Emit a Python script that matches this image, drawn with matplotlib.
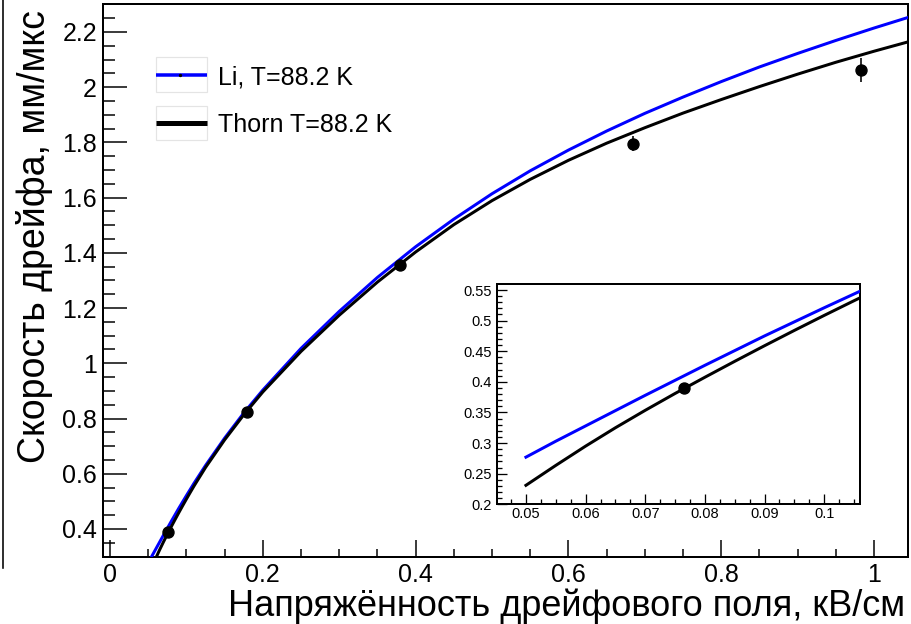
import matplotlib
matplotlib.use("Agg")
import matplotlib.pyplot as plt
from matplotlib.lines import Line2D
from matplotlib.patches import Rectangle
from matplotlib.ticker import FixedLocator, MultipleLocator, FuncFormatter

plt.rcParams['font.family'] = ['Liberation Sans', 'DejaVu Sans']

# Drift field, kV/cm, and electron drift velocity, mm/us, for both models
field = [0.05, 0.055, 0.06, 0.065, 0.07, 0.075, 0.08, 0.085, 0.09, 0.095,
         0.10, 0.105, 0.11, 0.125, 0.15, 0.175, 0.2, 0.25, 0.3, 0.35, 0.4,
         0.45, 0.5, 0.55, 0.6, 0.65, 0.7, 0.75, 0.8, 0.85, 0.9, 0.95, 1.0,
         1.05]
li_velocity = [0.277, 0.303, 0.328, 0.353, 0.378, 0.4025, 0.427, 0.451,
               0.475, 0.498, 0.521, 0.5435, 0.566, 0.630, 0.729, 0.820,
               0.903, 1.054, 1.188, 1.311, 1.422, 1.522, 1.614, 1.697, 1.772,
               1.841, 1.905, 1.964, 2.020, 2.073, 2.122, 2.169, 2.214, 2.257]
thorn_velocity = [0.231, 0.2635, 0.295, 0.325, 0.3535, 0.381, 0.4075,
                  0.4335, 0.459, 0.484, 0.5085, 0.5325, 0.556, 0.6228, 0.7228,
                  0.8133, 0.8963, 1.043, 1.174, 1.294, 1.403, 1.502, 1.589,
                  1.666, 1.735, 1.797, 1.853, 1.906, 1.955, 2.002, 2.047,
                  2.090, 2.130, 2.168]

# Measurements
meas_field = [0.0765, 0.1797, 0.3796, 0.685, 0.9826]
meas_velocity = [0.390, 0.824, 1.357, 1.795, 2.063]
meas_error = [0.005, 0.008, 0.012, 0.027, 0.044]

series_labels = ["Li, T=88.2 K", "Thorn T=88.2 K"]
x_title = "Напряжённость дрейфового поля, кВ/см"
y_title = "Скорость дрейфа, мм/мкс"

main_xticks = [0, 0.2, 0.4, 0.6, 0.8, 1.0]
main_yticks = [0.4, 0.6, 0.8, 1.0, 1.2, 1.4, 1.6, 1.8, 2.0, 2.2]
inset_xticks = [0.05, 0.06, 0.07, 0.08, 0.09, 0.1]
inset_yticks = [0.2, 0.25, 0.3, 0.35, 0.4, 0.45, 0.5, 0.55]

W, H = 912, 624
DPI = 100


def fx(px):
    return px / W


def fy(py):
    return 1 - py / H


def px2pt(p):
    return p * 72 / DPI


fmt = FuncFormatter(lambda v, pos: "%g" % round(v, 4))

fig = plt.figure(figsize=(W / DPI, H / DPI), dpi=DPI)
fig.patch.set_facecolor("white")

# Thin edge line of the canvas on the far left
fig.add_artist(Line2D([fx(3), fx(3)], [fy(0), fy(568)], color="black",
                      lw=px2pt(1.6), transform=fig.transFigure))

# ---------------- main frame ----------------
L, R, T, B = 103, 908.5, 4, 557
ax = fig.add_axes([fx(L), fy(B), (R - L) / W, (B - T) / H])
ax.set_xlim(-0.0092, 1.0451)
ax.set_ylim(0.2986, 2.301)

curve_lw = px2pt(3.0)
ax.plot(field, li_velocity, color="#0000ff", lw=curve_lw, zorder=3,
        solid_joinstyle="round")
ax.plot(field, thorn_velocity, color="black", lw=curve_lw, zorder=3,
        solid_joinstyle="round")
ax.errorbar(meas_field, meas_velocity, yerr=meas_error, fmt="o", color="black",
            ms=px2pt(11), elinewidth=px2pt(1.6), capsize=0, zorder=4)

for s in ax.spines.values():
    s.set_linewidth(px2pt(2))

ax.xaxis.set_major_locator(FixedLocator(main_xticks))
ax.xaxis.set_minor_locator(MultipleLocator(0.05))
ax.yaxis.set_major_locator(FixedLocator(main_yticks))
ax.yaxis.set_minor_locator(MultipleLocator(0.05))
ax.xaxis.set_major_formatter(fmt)
ax.yaxis.set_major_formatter(fmt)
ax.tick_params(axis="both", which="both", direction="in", top=False,
               right=False, width=px2pt(1.5), color="black")
ax.tick_params(axis="y", which="major", length=px2pt(24), pad=px2pt(6),
               labelsize=18)
ax.tick_params(axis="y", which="minor", length=px2pt(12))
ax.tick_params(axis="x", which="major", length=px2pt(17), pad=px2pt(6),
               labelsize=18)
ax.tick_params(axis="x", which="minor", length=px2pt(8))

# Axis titles
fig.text(fx(905), fy(615.5), x_title, ha="right", va="baseline", fontsize=26)
fig.text(fx(35), fy(10), y_title, ha="center", va="top", rotation=90,
         fontsize=27)

# Legend
legend_rows = [(57.3, 91.7, "#0000ff", 3.5), (105.7, 140.0, "black", 5.0)]
for (top, bot, col, lw), label in zip(legend_rows, series_labels):
    fig.add_artist(Rectangle((fx(155.7), fy(bot)), (206.7 - 155.7) / W,
                             (bot - top) / H, transform=fig.transFigure,
                             facecolor="white", edgecolor="#e4e4e4",
                             lw=px2pt(1.2)))
    yc = (top + bot) / 2
    fig.add_artist(Line2D([fx(155.7), fx(206.7)], [fy(yc), fy(yc)],
                          color=col, lw=px2pt(lw), transform=fig.transFigure,
                          solid_capstyle="butt"))
    fig.text(fx(218), fy(yc), label, ha="left", va="center_baseline",
             fontsize=18)
fig.add_artist(Line2D([fx(180)], [fy(74.5)], marker="o", ms=1.4,
                      color="black", lw=0, transform=fig.transFigure))

# ---------------- inset ----------------
iL, iR, iT, iB = 497.3, 860.0, 284.0, 504.3
axi = fig.add_axes([fx(iL), fy(iB), (iR - iL) / W, (iB - iT) / H])
axi.set_xlim(0.0452, 0.106)
axi.set_ylim(0.2, 0.5598)
axi.plot(field, li_velocity, color="#0000ff", lw=curve_lw, zorder=3,
         solid_joinstyle="round")
axi.plot(field, thorn_velocity, color="black", lw=curve_lw, zorder=3,
         solid_joinstyle="round")
axi.errorbar(meas_field, meas_velocity, yerr=meas_error, fmt="o",
             color="black", ms=px2pt(11), elinewidth=px2pt(1.6), capsize=0,
             zorder=4)
for s in axi.spines.values():
    s.set_linewidth(px2pt(2))
axi.xaxis.set_major_locator(FixedLocator(inset_xticks))
axi.xaxis.set_minor_locator(MultipleLocator(0.0025))
axi.yaxis.set_major_locator(FixedLocator(inset_yticks))
axi.yaxis.set_minor_locator(MultipleLocator(0.01))
axi.xaxis.set_major_formatter(fmt)
axi.yaxis.set_major_formatter(fmt)
axi.tick_params(axis="both", which="both", direction="in", top=False,
                right=False, width=px2pt(1.3), color="black")
axi.tick_params(axis="both", which="major", length=px2pt(10),
                labelsize=10.5)
axi.tick_params(axis="both", which="minor", length=px2pt(5))
axi.tick_params(axis="y", which="major", pad=px2pt(5.5))
axi.tick_params(axis="x", which="major", pad=px2pt(3))

fig.savefig("out.png", dpi=DPI, facecolor="white")
